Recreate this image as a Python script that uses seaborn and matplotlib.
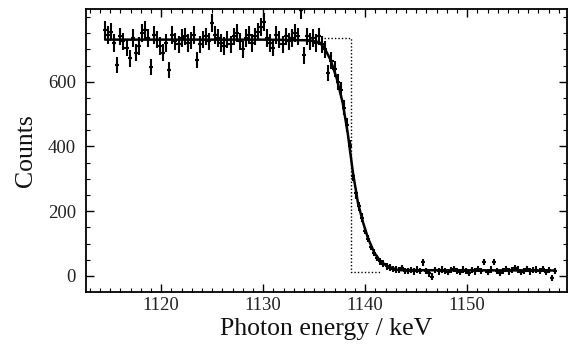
"""Gamma-ray spectrum edge: measured counts with error bars, fitted edge and bare step."""

import matplotlib
matplotlib.use("Agg")
import matplotlib.pyplot as plt
from matplotlib.ticker import FixedLocator, MultipleLocator
import numpy as np
import seaborn as sns

sns.set_theme(style="ticks")
plt.rcParams["font.family"] = ["Liberation Serif", "DejaVu Serif"]

energy = [
    1114.5, 1114.8, 1115.1, 1115.4, 1115.7, 1116.0, 1116.3, 1116.6, 1116.9, 1117.2,
    1117.5, 1117.8, 1118.1, 1118.4, 1118.7, 1119.0, 1119.3, 1119.6, 1119.9, 1120.2,
    1120.5, 1120.8, 1121.1, 1121.4, 1121.7, 1122.0, 1122.3, 1122.6, 1122.9, 1123.2,
    1123.5, 1123.8, 1124.1, 1124.4, 1124.7, 1125.0, 1125.3, 1125.6, 1125.9, 1126.2,
    1126.5, 1126.8, 1127.1, 1127.4, 1127.7, 1128.0, 1128.3, 1128.6, 1128.9, 1129.2,
    1129.5, 1129.8, 1130.1, 1130.4, 1130.7, 1131.0, 1131.3, 1131.6, 1131.9, 1132.2,
    1132.5, 1132.8, 1133.1, 1133.4, 1133.7, 1134.0, 1134.3, 1134.6, 1134.9, 1135.2,
    1135.5, 1135.8, 1136.1, 1136.4, 1136.7, 1137.0, 1137.3, 1137.6, 1137.9, 1138.2,
    1138.5, 1138.8, 1139.1, 1139.4, 1139.7, 1140.0, 1140.3, 1140.6, 1140.9, 1141.2,
    1141.5, 1141.8, 1142.1, 1142.4, 1142.7, 1143.0, 1143.3, 1143.6, 1143.9, 1144.2,
    1144.5, 1144.8, 1145.1, 1145.4, 1145.7, 1146.0, 1146.3, 1146.6, 1146.9, 1147.2,
    1147.5, 1147.8, 1148.1, 1148.4, 1148.7, 1149.0, 1149.3, 1149.6, 1149.9, 1150.2,
    1150.5, 1150.8, 1151.1, 1151.4, 1151.7, 1152.0, 1152.3, 1152.6, 1152.9, 1153.2,
    1153.5, 1153.8, 1154.1, 1154.4, 1154.7, 1155.0, 1155.3, 1155.6, 1155.9, 1156.2,
    1156.5, 1156.8, 1157.1, 1157.4, 1157.7, 1158.0, 1158.3, 1158.6,
]
counts = [
    760, 745, 755, 720, 652, 740, 725, 705, 672, 735,
    690, 710, 750, 760, 735, 645, 745, 730, 710, 689,
    720, 636, 745, 725, 715, 735, 740, 720, 728, 745,
    667, 715, 730, 740, 725, 781, 745, 735, 720, 710,
    730, 715, 740, 750, 725, 700, 735, 745, 720, 740,
    755, 770, 784, 735, 720, 705, 745, 730, 715, 740,
    725, 735, 750, 740, 821, 682, 740, 725, 735, 720,
    740, 715, 700, 627, 665, 640, 600, 575, 520, 465,
    400, 310, 255, 215, 180, 140, 115, 90, 72, 55,
    45, 38, 30, 26, 22, 20, 18, 25, 16, 15,
    18, 14, 20, 16, 42, 15, 8, -2, 18, 14,
    20, 15, 12, 18, 22, 16, 12, 20, 15, 10,
    18, 14, 22, 16, 44, 12, 20, 44, 15, 10,
    15, 22, 14, 18, 25, 20, 12, 16, 22, 14,
    18, 20, 15, 22, 12, 18, -7, 16,
]

# fitted (resolution-broadened) edge
fit_energy = [1114.5, 1130.0, 1134.5, 1135.5, 1136.0, 1136.6, 1137.2, 1137.8, 1138.3,
              1138.8, 1139.3, 1139.8, 1140.3, 1140.9, 1141.5, 1142.2, 1143.3, 1158.6]
fit_counts = [730, 730, 728, 722, 705, 668, 612, 535, 440,
              320, 225, 165, 115, 72, 45, 30, 18, 17]

# unbroadened step
step_energy = [1136.0, 1138.6, 1138.6, 1141.6]
step_counts = [735, 735, 12, 12]

x_ticks = [1120, 1130, 1140, 1150]
y_ticks = [0, 200, 400, 600]

fig = plt.figure(figsize=(5.73, 3.45), dpi=100)
ax = fig.add_axes([0.1496, 0.1545, 0.8400, 0.8194])

# Poisson errors, floored so the background points still show a cross
yerr = np.sqrt(np.clip(counts, 100, None))
ax.errorbar(energy, counts, yerr=yerr, xerr=0.2, fmt="none", ecolor="black",
            elinewidth=1.5, capsize=0, zorder=3)
sns.lineplot(x=fit_energy, y=fit_counts, ax=ax, color="black", linewidth=1.8,
             sort=False, estimator=None, zorder=4)
sns.lineplot(x=step_energy, y=step_counts, ax=ax, color="black", linewidth=1.0,
             linestyle=(0, (1, 1.5)), sort=False, estimator=None, zorder=2)

ax.set_xlim(1112.6, 1159.8)
ax.set_ylim(-48.5, 824.6)
ax.xaxis.set_major_locator(FixedLocator(x_ticks))
ax.xaxis.set_minor_locator(MultipleLocator(1))
ax.yaxis.set_major_locator(FixedLocator(y_ticks))
ax.yaxis.set_minor_locator(MultipleLocator(50))
ax.tick_params(which="both", direction="in", top=True, right=True, color="black",
               labelsize=13.5, labelcolor="#222222")
ax.tick_params(which="major", length=6, width=1.0)
ax.tick_params(which="minor", length=3, width=0.8)
ax.tick_params(axis="x", pad=4)
ax.tick_params(axis="y", pad=7)
for s in ax.spines.values():
    s.set_color("black")
    s.set_linewidth(1.3)

ax.set_xlabel("Photon energy / keV", fontsize=18.5, color="#111111", labelpad=3)
ax.set_ylabel("Counts", fontsize=18.5, color="#111111", labelpad=8)

fig.savefig("out.png")
